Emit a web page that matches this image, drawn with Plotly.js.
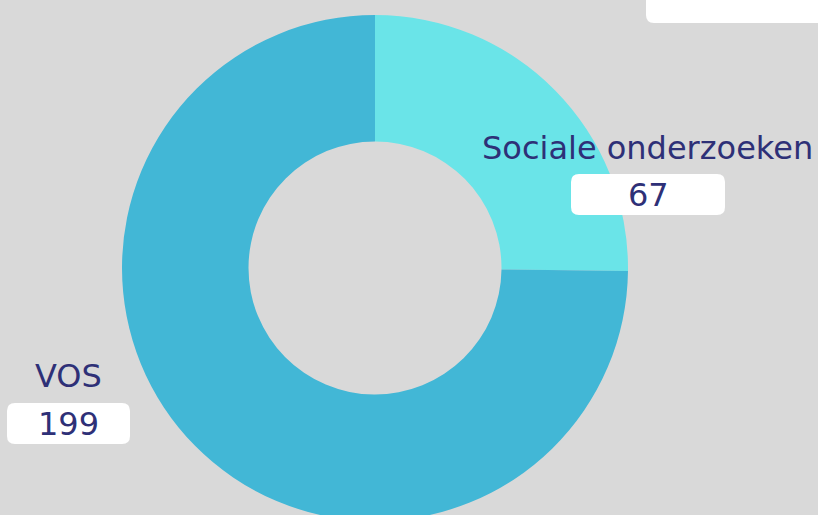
<!DOCTYPE html>
<html><head><meta charset="utf-8">
<script src="https://cdn.plot.ly/plotly-3.0.1.min.js"></script>
<style>html,body{margin:0;padding:0;background:#d9d9d9;overflow:hidden;width:818px;height:515px}#chart{width:818px;height:536px}</style>
</head><body><div id="chart"></div>
<script>
var categories = ["Sociale onderzoeken", "VOS"];
var values = [67, 199];
var colors = ["#6ae4e8", "#42b7d6"];
var textColor = "#2e3077";

var W = 818, H = 536;
function px(x){return x / W;}
function py(y){return 1 - y / H;}

// label placement (pixel centers) for each category
var labelPos = [{x: 647, y: 148, bx0: 571, bx1: 725, by0: 174, by1: 215},
                {x: 68,  y: 376, bx0: 7,   bx1: 130, by0: 403, by1: 444}];

function roundRect(x0, y0, x1, y1, r) {
  var p = [];
  p.push('M', px(x0 + r), py(y0));
  p.push('L', px(x1 - r), py(y0));
  p.push('Q', px(x1), py(y0), px(x1), py(y0 + r));
  p.push('L', px(x1), py(y1 - r));
  p.push('Q', px(x1), py(y1), px(x1 - r), py(y1));
  p.push('L', px(x0 + r), py(y1));
  p.push('Q', px(x0), py(y1), px(x0), py(y1 - r));
  p.push('L', px(x0), py(y0 + r));
  p.push('Q', px(x0), py(y0), px(x0 + r), py(y0));
  p.push('Z');
  var s = '';
  for (var i = 0; i < p.length; i++) {
    var v = p[i];
    if (typeof v === 'number') s += v.toFixed(5) + (p[i+1] !== undefined && typeof p[i+1] === 'number' ? ',' : ' ');
    else s += v;
  }
  return s;
}

var shapes = [];
var annotations = [];
// top-right white box
shapes.push({type: 'path', xref: 'paper', yref: 'paper', path: roundRect(646, -20, 840, 23, 8), fillcolor: '#ffffff', line: {width: 0}, layer: 'above'});

for (var i = 0; i < categories.length; i++) {
  var L = labelPos[i];
  shapes.push({type: 'path', xref: 'paper', yref: 'paper', path: roundRect(L.bx0, L.by0, L.bx1, L.by1, 8), fillcolor: '#ffffff', line: {width: 0}, layer: 'above'});
  annotations.push({xref: 'paper', yref: 'paper', x: px(L.x), y: py(L.y), text: categories[i], showarrow: false, xanchor: 'center', yanchor: 'middle', font: {family: 'DejaVu Sans', size: 32, color: textColor}});
  annotations.push({xref: 'paper', yref: 'paper', x: px((L.bx0 + L.bx1) / 2), y: py((L.by0 + L.by1) / 2), text: String(values[i]), showarrow: false, xanchor: 'center', yanchor: 'middle', font: {family: 'DejaVu Sans', size: 32, color: textColor}});
}

var trace = {
  type: 'pie',
  labels: categories,
  values: values,
  hole: 0.5,
  sort: false,
  direction: 'clockwise',
  rotation: 0,
  textinfo: 'none',
  marker: {colors: colors, line: {width: 0}},
  domain: {x: [px(122), px(628)], y: [py(521), py(15)]},
  showlegend: false,
  hoverinfo: 'label+value'
};

Plotly.newPlot('chart', [trace], {
  width: W, height: H,
  margin: {l: 0, r: 0, t: 0, b: 0},
  paper_bgcolor: '#d9d9d9',
  plot_bgcolor: '#d9d9d9',
  showlegend: false,
  shapes: shapes,
  annotations: annotations
}, {displayModeBar: false, staticPlot: true});
</script></body></html>
